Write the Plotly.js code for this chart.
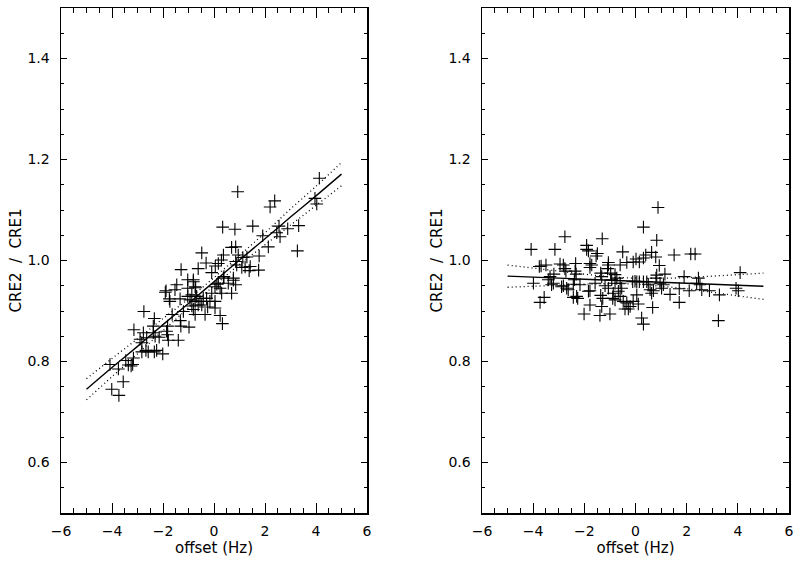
<!DOCTYPE html>
<html>
<head>
<meta charset="utf-8">
<script src="https://cdn.plot.ly/plotly-3.0.1.min.js"></script>
<style>html,body{margin:0;padding:0;background:#fff;}#chart{width:800px;height:564px;}</style>
</head>
<body>
<div id="chart"></div>
<script>
// ---- Left panel data (offset in Hz, CRE2/CRE1) ----
const leftX = [4.13,0.93,2.38,2.20,3.96,4.03,0.34,0.82,1.52,1.91,2.55,2.89,3.32,2.46,2.59,2.13,3.27,0.69,0.85,-0.48,
  0.37,0.29,0.95,1.13,0.85,1.77,1.38,1.75,1.09,-0.31,-0.62,0.05,0.17,-0.09,-1.29,0.39,0.37,0.76,0.85,0.56,
  0.11,-1.03,-0.81,-1.03,-0.72,-1.46,-1.53,-1.88,-1.91,-1.75,-1.73,-1.33,-1.03,-0.94,-0.68,-0.74,-0.62,-0.48,-0.29,-0.16,
  0.04,0.24,0.30,0.69,-0.25,-0.35,0.04,-0.81,-0.74,-0.87,-1.20,-1.64,0.24,0.33,-1.32,-1.30,-0.98,-2.75,-2.34,-2.38,
  -3.14,-2.77,-2.90,-2.83,-2.38,-2.31,-2.15,-1.82,-1.86,-1.82,-1.40,-1.79,-2.83,-2.67,-2.58,-2.34,-2.25,-2.01,-3.46,-3.36,
  -3.25,-3.16,-4.08,-3.75,-3.56,-4.01,-3.73,0.17,-0.55,-0.42,-0.09,0.04,-0.81,-0.74,-0.87,1.29,1.42,0.89,1.22,0.76,
  -2.64,-3.19];
const leftY = [1.163,1.136,1.118,1.106,1.123,1.112,1.066,1.062,1.068,1.049,1.068,1.063,1.069,1.055,1.047,1.027,1.019,1.026,1.027,1.015,
  1.011,1.001,1.011,1.006,0.998,1.009,0.980,0.981,0.986,0.995,0.984,0.989,0.994,0.976,0.982,0.968,0.965,0.965,0.952,0.955,
  0.953,0.962,0.962,0.945,0.946,0.952,0.942,0.940,0.937,0.924,0.919,0.924,0.929,0.922,0.929,0.919,0.912,0.912,0.925,0.919,
  0.919,0.945,0.935,0.935,0.908,0.893,0.906,0.903,0.893,0.910,0.899,0.893,0.891,0.875,0.881,0.870,0.868,0.899,0.885,0.870,
  0.863,0.857,0.844,0.837,0.857,0.850,0.848,0.870,0.860,0.853,0.842,0.842,0.819,0.822,0.819,0.819,0.822,0.815,0.802,0.793,
  0.791,0.807,0.794,0.785,0.760,0.745,0.733,0.955,0.919,0.925,0.935,0.948,0.958,0.948,0.932,1.007,0.988,0.991,0.987,0.961,
  0.847,0.794];

// ---- Right panel data ----
const rightX = [-2.76,-1.30,0.83,-4.08,-3.15,-1.91,-1.91,-1.84,-1.49,-1.54,-0.50,0.63,0.79,1.51,2.16,2.33,0.02,0.15,0.31,0.40,
  -0.34,-0.60,-1.06,-1.06,-1.09,-1.78,-1.71,-1.78,-2.34,-2.36,-2.95,-2.82,-2.76,-3.50,-3.76,-3.69,-3.19,-3.34,-3.41,-3.28,
  -3.21,-3.99,-2.69,-2.63,-2.89,-2.39,-2.43,-2.17,-2.30,-2.26,-3.73,-3.57,-1.78,-2.01,-1.39,-1.00,-1.32,-1.28,-1.36,-1.84,
  -1.78,-1.58,-1.36,-1.32,-0.97,-0.80,-0.73,-0.93,-1.19,-1.06,-0.80,-0.87,-0.89,-0.80,-0.67,-0.60,-0.48,-0.34,-0.41,-0.28,
  -0.21,-0.09,0.05,0.11,0.24,0.31,0.67,-0.60,-0.54,-0.11,-0.02,0.05,0.15,0.31,0.44,0.57,0.63,0.70,0.50,0.83,
  0.80,0.96,0.93,1.15,1.09,1.02,1.35,1.71,1.71,1.90,2.10,2.46,2.52,2.59,2.89,3.28,3.24,3.93,4.02,4.09,
  -2.72,-2.32,-2.82,-2.43,0.31,0.88,-0.09,2.39];
const rightY = [1.047,1.043,1.040,1.022,1.022,1.030,1.022,1.019,1.014,1.009,1.017,1.016,1.007,1.011,1.013,1.013,1.003,0.997,1.005,1.011,
  0.996,0.991,0.996,0.991,0.984,0.994,0.991,0.986,0.994,0.979,0.993,0.991,0.984,0.991,0.988,0.989,0.973,0.968,0.962,0.952,
  0.955,0.955,0.945,0.942,0.948,0.962,0.953,0.952,0.929,0.925,0.917,0.927,0.912,0.894,0.891,0.894,0.909,0.925,0.931,0.939,
  0.940,0.955,0.975,0.968,0.975,0.972,0.965,0.962,0.950,0.945,0.955,0.935,0.925,0.922,0.939,0.929,0.919,0.916,0.904,0.904,
  0.909,0.919,0.932,0.914,0.886,0.874,0.907,0.955,0.945,0.958,0.959,0.958,0.958,0.958,0.958,0.942,0.935,0.940,0.953,0.971,
  0.965,0.955,0.990,0.973,0.952,0.945,0.933,0.944,0.917,0.968,0.940,0.965,0.952,0.942,0.940,0.932,0.881,0.945,0.940,0.976,
  0.979,0.973,0.950,0.927,1.066,1.105,0.997,0.955];

// ---- Fit lines and confidence bands ----
const bandX = [-5,-4,-3,-2,-1,0,1,2,3,4,5];
const leftFit   = [0.745,0.788,0.830,0.873,0.915,0.958,1.001,1.043,1.086,1.128,1.171];
const leftUpper = [0.766,0.806,0.845,0.885,0.924,0.966,1.010,1.055,1.102,1.147,1.194];
const leftLower = [0.724,0.770,0.815,0.861,0.906,0.950,0.992,1.031,1.070,1.109,1.148];
const rightFit   = [0.969,0.967,0.965,0.963,0.961,0.959,0.957,0.955,0.953,0.951,0.949];
const rightUpper = [0.991,0.985,0.979,0.973,0.968,0.965,0.965,0.966,0.969,0.972,0.975];
const rightLower = [0.947,0.949,0.951,0.953,0.954,0.953,0.949,0.944,0.937,0.930,0.923];

const xTickVals = [-6,-4,-2,0,2,4,6];
const yTickVals = [0.6,0.8,1.0,1.2,1.4];
const xTitle = 'offset (Hz)';
const yTitle = 'CRE2\u00a0\u00a0/\u00a0\u00a0CRE1';

function pts(x, y, xa, ya) {
  return {x: x, y: y, xaxis: xa, yaxis: ya, type: 'scatter', mode: 'markers', showlegend: false,
    marker: {symbol: 'cross-thin', size: 9, color: '#000', line: {color: '#000', width: 1.1}}};
}
function ln(x, y, xa, ya, dash, w) {
  return {x: x, y: y, xaxis: xa, yaxis: ya, type: 'scatter', mode: 'lines', showlegend: false,
    line: {color: '#000', width: w, dash: dash, shape: 'spline'}};
}

const data = [
  pts(leftX, leftY, 'x', 'y'),
  ln(bandX, leftFit, 'x', 'y', 'solid', 1.4),
  ln(bandX, leftUpper, 'x', 'y', '1px,3px', 1.3),
  ln(bandX, leftLower, 'x', 'y', '1px,3px', 1.3),
  pts(rightX, rightY, 'x2', 'y2'),
  ln(bandX, rightFit, 'x2', 'y2', 'solid', 1.4),
  ln(bandX, rightUpper, 'x2', 'y2', '1px,3px', 1.3),
  ln(bandX, rightLower, 'x2', 'y2', '1px,3px', 1.3)
];

const fam = 'DejaVu Sans, Verdana, sans-serif';
const tickFont = {family: fam, size: 14, color: '#000'};
const titleFont = {family: fam, size: 15, color: '#000'};

function xaxis(dom, anchor) {
  return {domain: dom, anchor: anchor, range: [-6, 6], tickvals: xTickVals,
    ticks: 'inside', ticklen: 10, tickwidth: 1, tickcolor: '#000',
    showline: true, linecolor: '#000', linewidth: 1.5, mirror: 'ticks',
    showgrid: false, zeroline: false, ticklabelstandoff: 5,
    minor: {dtick: 0.5, ticks: 'inside', ticklen: 5, tickwidth: 1, tickcolor: '#000', showgrid: false},
    tickfont: tickFont, title: {text: xTitle, font: titleFont, standoff: 2}};
}
function yaxis(dom, anchor) {
  return {domain: dom, anchor: anchor, range: [0.5, 1.5], tickvals: yTickVals, tickformat: '.1f',
    ticks: 'inside', ticklen: 6, tickwidth: 1, tickcolor: '#000',
    showline: true, linecolor: '#000', linewidth: 1.5, mirror: 'ticks',
    showgrid: false, zeroline: false, ticklabelstandoff: 7,
    minor: {dtick: 0.05, ticks: 'inside', ticklen: 3, tickwidth: 1, tickcolor: '#000', showgrid: false},
    tickfont: tickFont, title: {text: yTitle, font: titleFont, standoff: 2}};
}

const yDom = [51/564, 556/564];
const layout = {
  width: 800, height: 564,
  margin: {l: 0, r: 0, t: 0, b: 0},
  paper_bgcolor: '#fff', plot_bgcolor: '#fff',
  showlegend: false,
  xaxis: xaxis([61/800, 367/800], 'y'),
  yaxis: yaxis(yDom, 'x'),
  xaxis2: xaxis([482/800, 789/800], 'y2'),
  yaxis2: yaxis(yDom, 'x2')
};

Plotly.newPlot('chart', data, layout, {displayModeBar: false, staticPlot: true});
</script>
</body>
</html>
